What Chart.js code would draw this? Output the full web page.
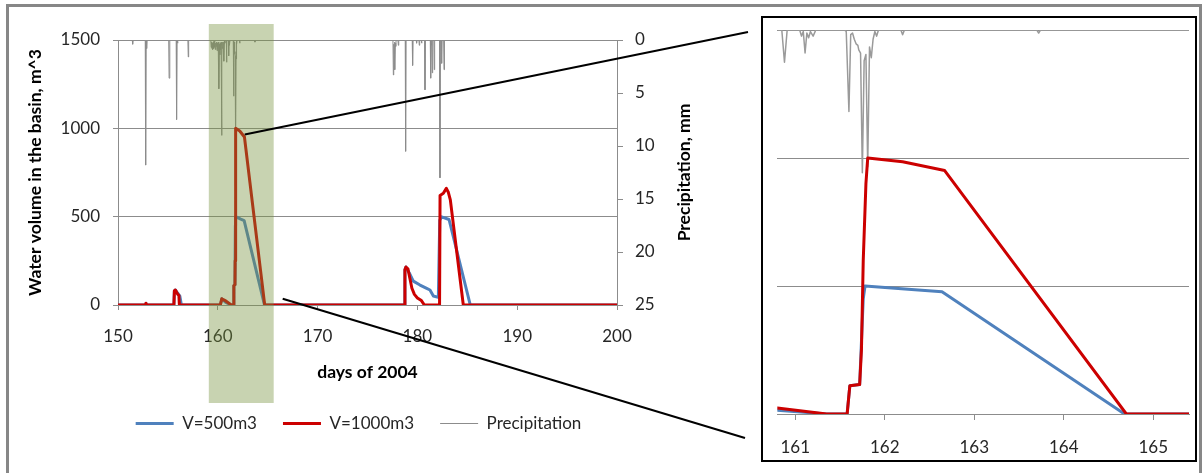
<!DOCTYPE html>
<html>
<head>
<meta charset="utf-8">
<title>Water volume in the basin</title>
<script src="https://cdn.jsdelivr.net/npm/chart.js@4.4.1/dist/chart.umd.min.js"></script>
<style>
  html, body { margin: 0; padding: 0; background: #fff; }
  #page { position: relative; width: 1203px; height: 473px; overflow: hidden; }
  #frame { position: absolute; left: 6px; top: 4px; width: 1196px; height: 490px; border: 3px solid #878787; box-sizing: border-box; }
  #mainChart { position: absolute; left: 0; top: 0; }
  #zoomBox { position: absolute; left: 761px; top: 16px; width: 436px; height: 446px; border: 2px solid #000; box-sizing: border-box; background: #fff; }
  #zoomChart { display: block; }
</style>
</head>
<body>
<div id="page">
  <div id="frame"></div>
  <canvas id="mainChart" width="1203" height="473"></canvas>
  <div id="zoomBox"><canvas id="zoomChart" width="432" height="442"></canvas></div>
</div>
<script>
// basin volume, [day of 2004, m^3]
const vol500 = [
  [150, 0], [152.75, 0], [152.8, 10], [152.85, 0],
  [155.6, 0], [155.65, 80], [155.75, 85], [156.0, 65], [156.2, 50], [156.35, 0],
  [160.25, 0], [160.4, 35], [160.55, 28], [160.8, 15], [161.35, 0],
  [161.58, 0], [161.61, 110], [161.72, 115], [161.76, 450], [161.78, 500], [162.3, 486], [162.64, 478], [164.68, 0],
  [178.7, 0], [178.75, 200], [178.85, 215], [179.2, 180], [179.59, 135], [180.26, 113], [180.93, 94], [181.26, 85],
  [181.6, 51], [182.1, 43], [182.24, 480], [182.43, 499], [183.17, 484], [185.3, 0],
  [200, 0]
];
const vol1000 = [
  [150, 0], [152.75, 0], [152.8, 10], [152.85, 0],
  [155.6, 0], [155.65, 80], [155.75, 85], [156.0, 60], [156.1, 55], [156.15, 0],
  [160.25, 0], [160.4, 35], [160.55, 30], [160.8, 23], [161.35, 0],
  [161.58, 0], [161.61, 110], [161.72, 115], [161.74, 250], [161.76, 600], [161.79, 900], [161.81, 1000],
  [162.2, 985], [162.67, 951], [164.7, 0],
  [178.7, 0], [178.75, 200], [178.85, 215], [179.05, 205], [179.25, 150], [179.45, 95], [179.7, 60], [180.0, 40],
  [180.4, 25], [180.7, 0],
  [182.22, 0], [182.27, 620], [182.6, 632], [182.9, 660], [183.1, 638], [183.3, 595], [184.6, 0],
  [200, 0]
];
// rainfall, [day of 2004, mm]
const rain = [
  [150, 0],
  [151.43, 0], [151.47, 0.4], [151.51, 0],
  [152.73, 0], [152.77, 11.8], [152.82, 0], [152.87, 0.8], [152.91, 0],
  [155.08, 0], [155.12, 3.6], [155.17, 3.6], [155.21, 0],
  [155.83, 0], [155.87, 7.5], [155.92, 0], [155.97, 0.3], [156.01, 0],
  [157.0, 0], [157.04, 1.6], [157.08, 0],
  [159.3, 0], [159.34, 0.7], [159.38, 0.2], [159.42, 0.8], [159.46, 0.3], [159.5, 0.9], [159.54, 0.2],
  [159.58, 0.8], [159.62, 0.1], [159.67, 0.7], [159.71, 0.2], [159.75, 0.9], [159.79, 0.3], [159.83, 0.6],
  [159.88, 0.2], [159.92, 1.0], [159.96, 0.3], [160.0, 0.8], [160.04, 0.2], [160.08, 0.9], [160.12, 4.6],
  [160.16, 0.4], [160.2, 1.4], [160.25, 0.3], [160.29, 0.9], [160.33, 0.2], [160.38, 9.0], [160.42, 0.3],
  [160.46, 0.8], [160.5, 0.2], [160.54, 1.0], [160.58, 0.2], [160.62, 2.0], [160.66, 0.1], [160.7, 0.3], [160.74, 0],
  [160.85, 0], [160.88, 2.1], [160.91, 0],
  [161.05, 0], [161.07, 0.4], [161.09, 0.1], [161.11, 1.5], [161.13, 0.2], [161.15, 0.5], [161.17, 0.1],
  [161.2, 0.4], [161.23, 0],
  [161.55, 0], [161.57, 0.1], [161.6, 5.3], [161.62, 0.3], [161.64, 0.2], [161.66, 0.6], [161.68, 0.9],
  [161.7, 1.0], [161.71, 1.3], [161.73, 1.5], [161.75, 9.3], [161.77, 2.0], [161.79, 1.6], [161.81, 8.9],
  [161.83, 1.1], [161.85, 1.8], [161.87, 0.6], [161.89, 0.1], [161.91, 0.4], [161.93, 0],
  [162.18, 0], [162.2, 0.3], [162.22, 0],
  [163.7, 0], [163.72, 0.2], [163.74, 0],
  [177.55, 0], [177.59, 3.3], [177.63, 0.4], [177.67, 0.8], [177.71, 0.2], [177.75, 2.8], [177.79, 0.3],
  [177.83, 0.6], [177.87, 0],
  [178.05, 0], [178.09, 0.5], [178.13, 0],
  [178.78, 0], [178.82, 10.5], [178.86, 0],
  [179.48, 0], [179.52, 2.4], [179.56, 0],
  [179.88, 0], [179.92, 0.3], [179.96, 0],
  [180.15, 0], [180.19, 0.5], [180.23, 0],
  [180.38, 0], [180.42, 0.3], [180.46, 0],
  [180.72, 0], [180.76, 4.7], [180.8, 0],
  [181.29, 0], [181.33, 3.6], [181.37, 0.3], [181.41, 0.5], [181.45, 0], [181.49, 3.1], [181.53, 0],
  [181.65, 0], [181.69, 2.8], [181.73, 0],
  [182.22, 0], [182.26, 13.0], [182.3, 0],
  [182.39, 0], [182.43, 2.2], [182.47, 0],
  [182.63, 0], [182.67, 2.8], [182.71, 0],
  [200, 0]
];

const seriesNames = ['V=500m3', 'V=1000m3', 'Precipitation'];
const dayRange = [150, 200];
const zoomDays = [160.8, 165.4];
const highlightDays = [159.1, 165.6];
const volumeRange = [0, 1500];
const rainRange = [0, 25];
// where the leader lines leave the main plot: [day, m^3]
const leaderFrom = [[162.7, 965], [166.5, 35]];

const blue = '#4f81bd';
const red = '#cc0000';
const gridGray = '#8c8c8c';
const tickColor = '#262626';
const tickFont = { family: 'Lato', size: 17 };
const titleFont = 'bold 17.5px Lato';

const toXY = pairs => pairs.map(([x, y]) => ({ x, y }));
const plainNumber = v => String(v);

function makeDatasets(volWidth, rainWidth, rainColor) {
  return [
    { label: seriesNames[0], data: toXY(vol500), borderColor: blue, backgroundColor: blue,
      borderWidth: volWidth, yAxisID: 'y', order: 1 },
    { label: seriesNames[1], data: toXY(vol1000), borderColor: red, backgroundColor: red,
      borderWidth: volWidth, yAxisID: 'y', order: 0 },
    { label: seriesNames[2], data: toXY(rain), borderColor: rainColor, backgroundColor: rainColor,
      borderWidth: rainWidth, yAxisID: 'y2', order: 2 }
  ].map(ds => Object.assign(ds, { pointRadius: 0, tension: 0, fill: false, borderJoinStyle: 'round' }));
}

// axis titles, shaded window and leader lines to the zoom box
const mainDecor = {
  id: 'mainDecor',
  afterDraw(chart) {
    const { ctx, chartArea: a, scales: { x, y } } = chart;
    const midY = (a.top + a.bottom) / 2;
    ctx.save();
    ctx.fillStyle = '#000';
    ctx.font = titleFont;
    ctx.textAlign = 'center';
    ctx.textBaseline = 'middle';
    ctx.fillText('days of 2004', (a.left + a.right) / 2, a.bottom + 67);
    ctx.save();
    ctx.translate(35, midY);
    ctx.rotate(-Math.PI / 2);
    ctx.fillText('Water volume in the basin, m^3', 0, 0);
    ctx.restore();
    ctx.save();
    ctx.translate(a.right + 67, midY);
    ctx.rotate(-Math.PI / 2);
    ctx.fillText('Precipitation, mm', 0, 0);
    ctx.restore();

    const x0 = x.getPixelForValue(highlightDays[0]);
    const x1 = x.getPixelForValue(highlightDays[1]);
    ctx.fillStyle = 'rgba(118, 146, 60, 0.4)';
    ctx.fillRect(x0, a.top - 16, x1 - x0, a.bottom - a.top + 114);

    const box = document.getElementById('zoomBox');
    const ends = [[box.offsetLeft - 13, box.offsetTop + 16], [box.offsetLeft - 16, box.offsetTop + 422]];
    ctx.strokeStyle = '#000';
    ctx.lineWidth = 2;
    leaderFrom.forEach(([d, v], i) => {
      ctx.beginPath();
      ctx.moveTo(x.getPixelForValue(d), y.getPixelForValue(v));
      ctx.lineTo(ends[i][0], ends[i][1]);
      ctx.stroke();
    });
    ctx.restore();
  }
};

function draw() {
  Chart.defaults.font.family = 'Lato';

  new Chart(document.getElementById('mainChart'), {
    type: 'line',
    data: { datasets: makeDatasets(3, 1, '#8c8c8c') },
    options: {
      responsive: false,
      animation: false,
      events: [],
      layout: { padding: { left: 0, top: 40, right: 486, bottom: 31 } },
      plugins: {
        tooltip: { enabled: false },
        legend: {
          position: 'bottom',
          labels: {
            usePointStyle: true,
            pointStyle: 'line',
            pointStyleWidth: 38,
            padding: 26,
            color: tickColor,
            font: tickFont,
            sort: (a, b) => a.datasetIndex - b.datasetIndex
          }
        }
      },
      scales: {
        x: {
          type: 'linear', min: dayRange[0], max: dayRange[1],
          afterFit: s => { s.height = 84; },
          ticks: { stepSize: 10, padding: 16, color: tickColor, font: tickFont, maxRotation: 0, callback: plainNumber },
          grid: { drawOnChartArea: false, tickLength: 5, color: gridGray },
          border: { color: gridGray }
        },
        y: {
          position: 'left', min: volumeRange[0], max: volumeRange[1],
          afterFit: s => { s.width = 118; },
          ticks: { stepSize: 500, padding: 13, color: tickColor, font: tickFont, callback: plainNumber },
          grid: { color: gridGray, tickLength: 5 },
          border: { color: gridGray }
        },
        y2: {
          position: 'right', min: rainRange[0], max: rainRange[1], reverse: true,
          afterFit: s => { s.width = 100; },
          ticks: { stepSize: 5, padding: 12, color: tickColor, font: tickFont, callback: plainNumber },
          grid: { drawOnChartArea: false, tickLength: 6, color: gridGray },
          border: { color: gridGray }
        }
      }
    },
    plugins: [mainDecor]
  });

  new Chart(document.getElementById('zoomChart'), {
    type: 'line',
    data: { datasets: makeDatasets(3, 1.5, '#9a9a9a') },
    options: {
      responsive: false,
      animation: false,
      events: [],
      layout: { padding: { left: 10, top: 12, right: 6, bottom: 0 } },
      plugins: { legend: { display: false }, tooltip: { enabled: false } },
      scales: {
        x: {
          type: 'linear', min: zoomDays[0], max: zoomDays[1],
          afterFit: s => { s.height = 46; },
          ticks: { stepSize: 1, includeBounds: false, padding: 17, color: tickColor, font: tickFont, maxRotation: 0, callback: plainNumber },
          grid: { drawOnChartArea: false, tickLength: 6, color: gridGray },
          border: { color: gridGray }
        },
        y: {
          min: volumeRange[0], max: volumeRange[1],
          afterFit: s => { s.width = 0; },
          ticks: { stepSize: 500, display: false },
          grid: { color: gridGray, tickLength: 0 },
          border: { display: false }
        },
        y2: { display: false, min: rainRange[0], max: rainRange[1], reverse: true }
      }
    }
  });
}

Promise.all([document.fonts.load('17px Lato'), document.fonts.load('bold 17.5px Lato')])
  .catch(() => {})
  .then(draw);
</script>
</body>
</html>
